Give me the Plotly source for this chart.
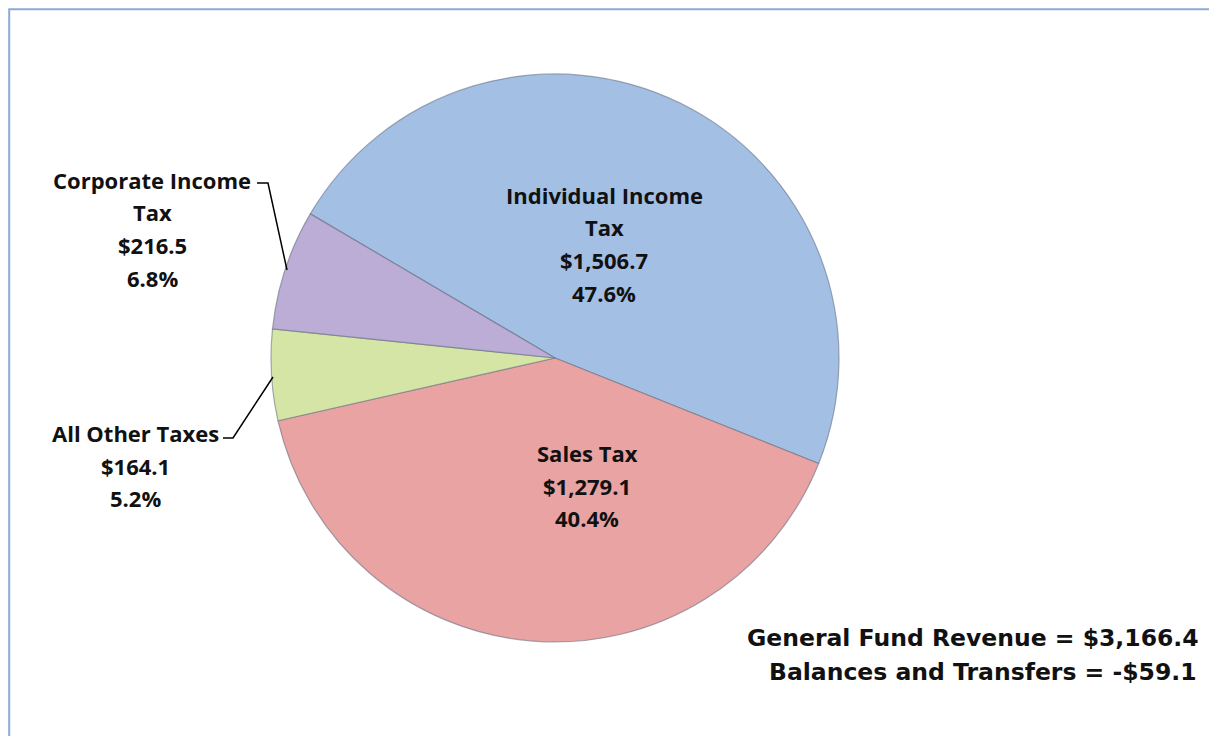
import plotly.graph_objects as go

W, H = 1217, 736

# ---- data ----
categories = ["Individual Income Tax", "Sales Tax", "All Other Taxes", "Corporate Income Tax"]
label_lines = [["Individual Income", "Tax"], ["Sales Tax"], ["All Other Taxes"], ["Corporate Income", "Tax"]]
values = [1506.7, 1279.1, 164.1, 216.5]
colors = ["#a4bfe4", "#e8a3a2", "#d5e5a6", "#bcadd6"]
total_revenue = 3166.4
balances_transfers = -59.1

total = sum(values)
pcts = [v / total * 100 for v in values]

OFF = 8  # page body margin in the browser

def px(x):
    return (x - OFF) / W

def py(y):
    return 1 - (y - OFF) / H

cx, cy, r = 555, 358, 284

fig = go.Figure()
fig.add_trace(go.Pie(
    labels=categories,
    values=values,
    marker=dict(colors=colors, line=dict(color="rgba(95,105,125,0.55)", width=1.2)),
    sort=False,
    direction="clockwise",
    rotation=-59.5,
    textinfo="none",
    hoverinfo="label+value+percent",
    showlegend=False,
    domain=dict(x=[px(cx - r), px(cx + r)], y=[py(cy + r), py(cy - r)]),
))

# label layout: (center x, first line y) in pixels, line spacing
label_pos = [(604, 195), (587, 453), (135, 433), (152, 180)]
spacing = 32.5
FONT = "Open Sans"
annotations = []
for i in range(len(values)):
    lines = label_lines[i] + ["${:,.1f}".format(values[i]), "{:.1f}%".format(pcts[i])]
    x0, y0 = label_pos[i]
    for j, t in enumerate(lines):
        annotations.append(dict(
            x=px(x0), y=py(y0 + j * spacing), xref="paper", yref="paper",
            text="<b>" + t + "</b>", showarrow=False, xanchor="center", yanchor="middle",
            font=dict(family=FONT, size=22, color="#111111"),
        ))

annotations.append(dict(
    x=px(1201), y=py(638), xref="paper", yref="paper",
    text="<b>General Fund Revenue = ${:,.1f}</b>".format(total_revenue),
    showarrow=False, xanchor="right", yanchor="middle",
    font=dict(family="DejaVu Sans", size=23.5, color="#111111"),
))
bt = "-${:,.1f}".format(abs(balances_transfers)) if balances_transfers < 0 else "${:,.1f}".format(balances_transfers)
annotations.append(dict(
    x=px(1199), y=py(672), xref="paper", yref="paper",
    text="<b>Balances and Transfers = {}</b>".format(bt),
    showarrow=False, xanchor="right", yanchor="middle",
    font=dict(family="DejaVu Sans", size=23.5, color="#111111"),
))

def path(points):
    s = "M {} {}".format(px(points[0][0]), py(points[0][1]))
    for p in points[1:]:
        s += " L {} {}".format(px(p[0]), py(p[1]))
    return s

shapes = [
    # chart border
    dict(type="rect", xref="paper", yref="paper", x0=1.2 / W, y0=-0.02, x1=1.02, y1=1 - 1.2 / H,
         line=dict(color="#8eaad4", width=2), fillcolor="rgba(0,0,0,0)", layer="below"),
    # leader lines
    dict(type="path", xref="paper", yref="paper", path=path([(257, 183), (268, 183), (287, 270)]),
         line=dict(color="#000000", width=1.5)),
    dict(type="path", xref="paper", yref="paper", path=path([(223, 438), (233, 438), (273, 377)]),
         line=dict(color="#000000", width=1.5)),
]

fig.update_layout(
    width=W, height=H,
    margin=dict(l=0, r=0, t=0, b=0),
    paper_bgcolor="white",
    plot_bgcolor="white",
    annotations=annotations,
    shapes=shapes,
)

fig.write_html("out.html")
